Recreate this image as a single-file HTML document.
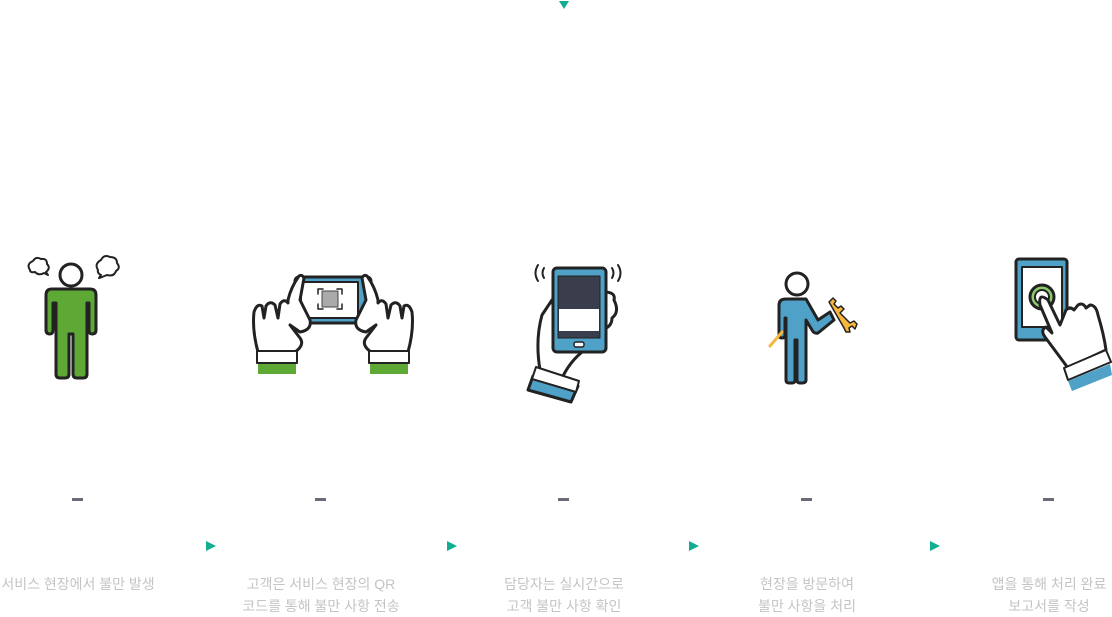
<!DOCTYPE html>
<html><head><meta charset="utf-8"><style>
body{margin:0;width:1112px;height:614px;background:#fff;overflow:hidden;position:relative;font-family:"Liberation Sans","Noto Sans CJK KR",sans-serif}
.t{position:absolute;width:240px;text-align:center;color:#c4c4c4;font-size:14px;line-height:22px}
.d{position:absolute;top:498px;width:11px;height:3px;background:#6b6b78}
</style></head><body>
<svg width="1112" height="614" style="position:absolute;left:0;top:0" stroke="#222" stroke-width="3" stroke-linejoin="round" stroke-linecap="round">
<polygon points="559,1 569,1 564,9" fill="#13ad92" stroke="none"/>
<g fill="#13ad92" stroke="none">
<polygon points="206,541 216,546 206,551"/><polygon points="447,541 457,546 447,551"/>
<polygon points="689,541 699,546 689,551"/><polygon points="930,541 940,546 930,551"/>
</g>
<!-- icon1 -->
<circle cx="71" cy="275" r="11" fill="#fff"/>
<path d="M52,289 H90 Q96,289 96,295 V330 Q96,334 92,334 Q89,334 89,330 V303 H87 V374 Q87,378 83,378 H77 Q73,378 73,374 V334 H69 V374 Q69,378 65,378 H60 Q56,378 56,374 V303 H53 V330 Q53,334 50,334 Q46,334 46,330 V295 Q46,289 52,289Z" fill="#5ea835"/>
<path d="M30,270 q-4,-6 3,-9 q3,-5 8,-2 q6,-1 6,5 q4,4 -1,8 l2,3 l-4,-2 q-5,3 -9,-1 q-5,1 -5,-2z" fill="#fff" stroke-width="2"/>
<path d="M98,270 q-4,-6 3,-10 q3,-6 9,-3 q7,0 7,6 q4,5 -1,8 q-2,6 -9,4 l-5,2 l-3,1 l2,-3 q-4,-2 -3,-5z" fill="#fff" stroke-width="2"/>
<!-- icon2 -->
<rect x="295" y="277" width="76" height="46" rx="4" fill="#4fa1c8"/>
<rect x="301" y="282" width="57" height="36" fill="#fff" stroke-width="2"/>
<rect x="322" y="291" width="16" height="16" fill="#aaa" stroke="#444" stroke-width="1"/>
<path d="M318,294 v-5 h5 M342,294 v-5 h-5 M318,304 v5 h5 M342,304 v5 h-5" fill="none" stroke-width="1.5"/>
<path d="M258,352 Q252,330 254,312 Q257,303 262,306 L264,318 L266,306 Q270,300 275,305 L278,318 L280,304 Q284,298 288,303 L288,300 Q291,287 299,276 Q302,274 304,278 L300,300 L310,320 Q312,330 300,332 L290,325 L300,338 Q305,345 295,352Z" fill="#fff"/>
<path d="M408,352 Q414,330 412,312 Q409,303 404,306 L402,318 L400,306 Q396,300 391,305 L388,318 L386,304 Q382,298 378,303 L378,300 Q375,287 367,276 Q364,274 362,278 L366,300 L356,320 Q354,330 366,332 L376,325 L366,338 Q361,345 371,352Z" fill="#fff"/>
<rect x="257" y="351" width="40" height="12" fill="#fff" stroke-width="2"/>
<rect x="369" y="351" width="40" height="12" fill="#fff" stroke-width="2"/>
<rect x="258" y="364" width="38" height="10" fill="#5ea835" stroke="none"/>
<rect x="370" y="364" width="38" height="10" fill="#5ea835" stroke="none"/>
<!-- icon3 -->
<path d="M538,265 q-5,8 0,16 M544,268 q-3,5 0,10 M618,265 q5,8 0,16 M612,268 q3,5 0,10" fill="none" stroke-width="2"/>
<path d="M540,370 Q535,340 542,315 L552,300 L560,340 L600,330 Q612,328 612,318 Q620,312 614,300 Q616,292 604,292 L604,345 L585,350 Q570,360 560,382Z" fill="#fff"/>
<rect x="553" y="268" width="53" height="84" rx="4" fill="#4fa1c8"/>
<rect x="558" y="276" width="42" height="62" fill="#3a3e4c" stroke-width="1"/>
<rect x="559" y="309" width="40" height="22" fill="#fff" stroke="none"/>
<rect x="574" y="342" width="10" height="5" rx="2" fill="#fff" stroke-width="1.5"/>
<path d="M533,376 L578,386 L571,402 L528,390Z" fill="#4fa1c8"/>
<path d="M536,367 L579,381 L576,392 L532,379Z" fill="#fff" stroke-width="2"/>
<!-- icon4 -->
<circle cx="797" cy="284" r="11" fill="#fff"/>
<path d="M786,299 H806 L818,320 L830,312 L834,320 L818,333 Q814,334 812,330 L806,320 V380 Q806,383 802,383 H800 Q797,383 797,380 V340 H795 V380 Q795,383 792,383 H789 Q786,383 786,380 V318 H785 V335 Q785,338 782,338 Q779,338 779,335 V305 Q779,299 786,299Z" fill="#4fa1c8"/>
<path d="M829,302 l4,-4 l3,3 l-2,3 l4,4 l3,-2 l3,3 l-4,4 l10,10 l4,-2 l3,3 l-2,5 l-3,-3 l-3,2 l1,4 l-4,0 l-2,-4 z" fill="#f6b73c" stroke-width="1.5"/>
<path d="M770,346 l12,-14" stroke="#f6b73c" stroke-width="3"/>
<!-- icon5 -->
<rect x="1016" y="259" width="51" height="81" rx="3" fill="#4fa1c8"/>
<rect x="1022" y="267" width="40" height="60" fill="#fff" stroke-width="2"/>
<circle cx="1042" cy="297" r="12" fill="#8ccc6c"/>
<circle cx="1042" cy="297" r="7" fill="#fff" stroke-width="2"/>
<path d="M1048,300 L1060,325 L1066,310 Q1070,306 1074,310 L1078,305 Q1083,302 1086,308 L1090,305 Q1096,305 1098,315 Q1104,335 1106,350 L1068,368 L1045,337 Q1040,330 1046,327 L1052,333 L1040,305 Q1038,292 1048,300Z" fill="#fff"/>
<path d="M1064,368 L1106,350 L1111,362 L1068,380Z" fill="#fff" stroke-width="2"/>
<path d="M1068,381 L1110,364 L1112,375 L1072,391Z" fill="#4fa1c8" stroke="none"/>
</svg>
<div class="d" style="left:72px"></div><div class="d" style="left:315px"></div><div class="d" style="left:558px"></div><div class="d" style="left:801px"></div><div class="d" style="left:1043px"></div>
<div class="t" style="left:-42px;top:573px">서비스 현장에서 불만 발생</div>
<div class="t" style="left:201px;top:573px">고객은 서비스 현장의 QR<br>코드를 통해 불만 사항 전송</div>
<div class="t" style="left:444px;top:573px">담당자는 실시간으로<br>고객 불만 사항 확인</div>
<div class="t" style="left:687px;top:573px">현장을 방문하여<br>불만 사항을 처리</div>
<div class="t" style="left:929px;top:573px">앱을 통해 처리 완료<br>보고서를 작성</div>
</body></html>
